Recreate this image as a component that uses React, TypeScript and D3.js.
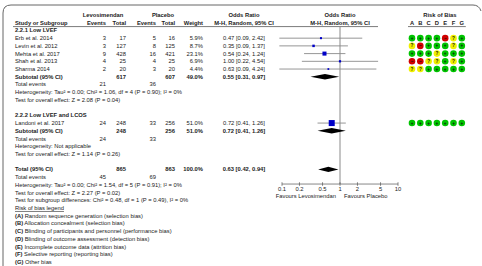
import React from "react";
import * as d3 from "d3";

// subgroup 2.2.1 Low LVEF
const lvefStudies = ["Erb et al. 2014", "Levin et al. 2012", "Mehta et al. 2017", "Shah et al. 2013", "Sharma 2014"];
const lvefLevoEvents = [3, 3, 9, 4, 2];
const lvefLevoTotal = [17, 127, 428, 25, 20];
const lvefPlacEvents = [5, 8, 16, 4, 3];
const lvefPlacTotal = [16, 125, 421, 25, 20];
const lvefWeight = [5.9, 8.7, 23.1, 6.9, 4.4];
const lvefOR = [0.47, 0.35, 0.54, 1.0, 0.63];
const lvefLo = [0.09, 0.09, 0.24, 0.22, 0.09];
const lvefHi = [2.42, 1.37, 1.24, 4.54, 4.24];
const lvefBias = ["++++-?+", "?-+++?+", "+++?+++", "--??+?+", "??+++++"];

// subgroup 2.2.2 Low LVEF and LCOS
const lcosStudies = ["Landoni et al. 2017"];
const lcosLevoEvents = [24];
const lcosLevoTotal = [248];
const lcosPlacEvents = [33];
const lcosPlacTotal = [256];
const lcosWeight = [51.0];
const lcosOR = [0.72];
const lcosLo = [0.41];
const lcosHi = [1.26];
const lcosBias = ["+++++++"];

// pooled: [levoTotal, placTotal, weight, or, lo, hi, levoEvents, placEvents]
const subtotal1 = [617, 607, 49.0, 0.55, 0.31, 0.97, 21, 36];
const subtotal2 = [248, 256, 51.0, 0.72, 0.41, 1.26, 24, 33];
const overall = [865, 863, 100.0, 0.63, 0.42, 0.94, 45, 69];

const axisTicks = [0.1, 0.2, 0.5, 1, 2, 5, 10];
const biasLetters = ["A", "B", "C", "D", "E", "F", "G"];
const biasLegend = [
  "Random sequence generation (selection bias)",
  "Allocation concealment (selection bias)",
  "Blinding of participants and personnel (performance bias)",
  "Blinding of outcome assessment (detection bias)",
  "Incomplete outcome data (attrition bias)",
  "Selective reporting (reporting bias)",
  "Other bias",
];

const W = 482;
const H = 266;
const FONT = "Liberation Sans, Arial, sans-serif";
const FS = 5.8;
const TXT = "#222";

const col = {
  study: 15,
  levoEv: 106,
  levoTot: 126,
  placEv: 156,
  placTot: 175,
  weight: 203,
  ci: 244,
  bias0: 412,
  biasStep: 8.3,
};

const x = d3.scaleLog().domain([0.1, 10]).range([282, 398]);
const y = d3.scaleLinear().domain([0, 32]).range([15, 262]);

const fmt2 = d3.format(".2f");
const ciText = (o: number, l: number, h: number) => `${fmt2(o)} [${fmt2(l)}, ${fmt2(h)}]`;
const biasColor: Record<string, string> = { "+": "#00c400", "-": "#d00000", "?": "#f0f000" };

function T(props: any) {
  const { x: tx, y: ty, children, anchor = "start", bold = false, ...rest } = props;
  return (
    <text x={tx} y={ty} dy="0.35em" textAnchor={anchor} fontWeight={bold ? "bold" : "normal"} {...rest}>
      {children}
    </text>
  );
}

function StudyRow({ i, name, le, lt, pe, pt, w, o, l, h, bias }: any) {
  const yy = y(i);
  const s = Math.sqrt(w) * 0.84;
  return (
    <g>
      <T x={col.study} y={yy}>{name}</T>
      <T x={col.levoEv} y={yy} anchor="end">{le}</T>
      <T x={col.levoTot} y={yy} anchor="end">{lt}</T>
      <T x={col.placEv} y={yy} anchor="end">{pe}</T>
      <T x={col.placTot} y={yy} anchor="end">{pt}</T>
      <T x={col.weight} y={yy} anchor="end">{w.toFixed(1)}%</T>
      <T x={col.ci} y={yy} anchor="middle">{ciText(o, l, h)}</T>
      <line x1={x(l)} x2={x(h)} y1={yy} y2={yy} stroke="#8a8a8a" strokeWidth={0.9} />
      <rect x={x(o) - s / 2} y={yy - s / 2} width={s} height={s} fill="#0000c8" />
      {bias.split("").map((b: string, k: number) => {
        const cx = col.bias0 + k * col.biasStep;
        return (
          <g key={k}>
            <circle cx={cx} cy={yy} r={3.3} fill={biasColor[b]} />
            <text x={cx} y={yy} dy="0.35em" textAnchor="middle" fontSize={4.6} fontWeight="bold" fill="#111">
              {b === "-" ? "\u2013" : b}
            </text>
          </g>
        );
      })}
    </g>
  );
}

function PooledRow({ i, label, v }: any) {
  const yy = y(i);
  const [lt, pt, w, o, l, h] = v;
  const dh = 2.7;
  const pts = [
    [x(l), yy],
    [x(o), yy - dh],
    [x(h), yy],
    [x(o), yy + dh],
  ];
  return (
    <g fontWeight="bold">
      <T x={col.study} y={yy} bold>{label}</T>
      <T x={col.levoTot} y={yy} anchor="end" bold>{lt}</T>
      <T x={col.placTot} y={yy} anchor="end" bold>{pt}</T>
      <T x={col.weight} y={yy} anchor="end" bold>{w.toFixed(1)}%</T>
      <T x={col.ci} y={yy} anchor="middle" bold>{ciText(o, l, h)}</T>
      <polygon points={pts.map((p) => p.join(",")).join(" ")} fill="#000" />
    </g>
  );
}

function EventsRow({ i, v }: any) {
  const yy = y(i);
  return (
    <g>
      <T x={col.study} y={yy}>Total events</T>
      <T x={col.levoEv} y={yy} anchor="end">{v[6]}</T>
      <T x={col.placEv} y={yy} anchor="end">{v[7]}</T>
    </g>
  );
}

export default function App() {
  const axisY = y(21.9);
  return (
    <svg
      width={W}
      height={H}
      style={{ position: "absolute", left: 0, top: 0, background: "#fff" }}
      fontFamily={FONT}
      fontSize={FS}
      fill={TXT}
    >
      {/* frame */}
      <path d={`M3,${H} V13 Q3,5 11,5 H473 Q479,5 481,11`} fill="none" stroke="#666" strokeWidth={1} />

      {/* headers */}
      <T x={103} y={y(0)} anchor="middle" bold>Levosimendan</T>
      <T x={163} y={y(0)} anchor="middle" bold>Placebo</T>
      <T x={col.ci} y={y(0)} anchor="middle" bold>Odds Ratio</T>
      <T x={x(1)} y={y(0)} anchor="middle" bold>Odds Ratio</T>
      <T x={col.bias0 + 3 * col.biasStep + 3} y={y(0)} anchor="middle" bold>Risk of Bias</T>

      <T x={col.study} y={y(1)} bold>Study or Subgroup</T>
      <T x={col.levoEv} y={y(1)} anchor="end" bold>Events</T>
      <T x={col.levoTot} y={y(1)} anchor="end" bold>Total</T>
      <T x={col.placEv} y={y(1)} anchor="end" bold>Events</T>
      <T x={col.placTot} y={y(1)} anchor="end" bold>Total</T>
      <T x={col.weight} y={y(1)} anchor="end" bold>Weight</T>
      <T x={col.ci} y={y(1)} anchor="middle" bold>M-H, Random, 95% CI</T>
      <T x={x(1)} y={y(1)} anchor="middle" bold>M-H, Random, 95% CI</T>
      {biasLetters.map((b, k) => (
        <T key={b} x={col.bias0 + k * col.biasStep} y={y(1)} anchor="middle" bold>{b}</T>
      ))}
      <line x1={col.study - 2} x2={x(10) - 20} y1={y(1.5)} y2={y(1.5)} stroke="#444" strokeWidth={0.7} />
      <line x1={col.bias0 - 4} x2={col.bias0 + 6 * col.biasStep + 4} y1={y(1.5)} y2={y(1.5)} stroke="#444" strokeWidth={0.7} />

      {/* null line */}
      <line x1={x(1)} x2={x(1)} y1={y(1.5)} y2={axisY} stroke="#8a8a8a" strokeWidth={1} />

      {/* subgroup 1 */}
      <T x={col.study} y={y(2)} bold>2.2.1 Low LVEF</T>
      {lvefStudies.map((s, k) => (
        <StudyRow
          key={s}
          i={3 + k}
          name={s}
          le={lvefLevoEvents[k]}
          lt={lvefLevoTotal[k]}
          pe={lvefPlacEvents[k]}
          pt={lvefPlacTotal[k]}
          w={lvefWeight[k]}
          o={lvefOR[k]}
          l={lvefLo[k]}
          h={lvefHi[k]}
          bias={lvefBias[k]}
        />
      ))}
      <PooledRow i={8} label="Subtotal (95% CI)" v={subtotal1} />
      <EventsRow i={9} v={subtotal1} />
      <T x={col.study} y={y(10)}>Heterogeneity: Tau² = 0.00; Chi² = 1.06, df = 4 (P = 0.90); I² = 0%</T>
      <T x={col.study} y={y(11)}>Test for overall effect: Z = 2.08 (P = 0.04)</T>

      {/* subgroup 2 */}
      <T x={col.study} y={y(13)} bold>2.2.2 Low LVEF and LCOS</T>
      {lcosStudies.map((s, k) => (
        <StudyRow
          key={s}
          i={14 + k}
          name={s}
          le={lcosLevoEvents[k]}
          lt={lcosLevoTotal[k]}
          pe={lcosPlacEvents[k]}
          pt={lcosPlacTotal[k]}
          w={lcosWeight[k]}
          o={lcosOR[k]}
          l={lcosLo[k]}
          h={lcosHi[k]}
          bias={lcosBias[k]}
        />
      ))}
      <PooledRow i={15} label="Subtotal (95% CI)" v={subtotal2} />
      <EventsRow i={16} v={subtotal2} />
      <T x={col.study} y={y(17)}>Heterogeneity: Not applicable</T>
      <T x={col.study} y={y(18)}>Test for overall effect: Z = 1.14 (P = 0.26)</T>

      {/* overall */}
      <PooledRow i={20} label="Total (95% CI)" v={overall} />
      <EventsRow i={21} v={overall} />
      <T x={col.study} y={y(22)}>Heterogeneity: Tau² = 0.00; Chi² = 1.54, df = 5 (P = 0.91); I² = 0%</T>
      <T x={col.study} y={y(23)}>Test for overall effect: Z = 2.27 (P = 0.02)</T>
      <T x={col.study} y={y(24)}>Test for subgroup differences: Chi² = 0.48, df = 1 (P = 0.49), I² = 0%</T>

      {/* axis */}
      <g stroke="#555" strokeWidth={0.7}>
        <line x1={x(0.1)} x2={x(10)} y1={axisY} y2={axisY} />
        {axisTicks.map((t) => (
          <line key={t} x1={x(t)} x2={x(t)} y1={axisY - 1.8} y2={axisY + 1.8} />
        ))}
      </g>
      {axisTicks.map((t) => (
        <T key={t} x={x(t)} y={axisY + 5} anchor="middle">{t}</T>
      ))}
      <T x={x(1) - 4} y={axisY + 11.5} anchor="end">Favours Levosimendan</T>
      <T x={x(1) + 4} y={axisY + 11.5}>Favours Placebo</T>

      {/* risk of bias legend */}
      <T x={col.study} y={y(25)} textDecoration="underline">Risk of bias legend</T>
      {biasLegend.map((d, k) => (
        <text key={d} x={col.study} y={y(26 + k)} dy="0.35em">
          <tspan fontWeight="bold">({biasLetters[k]})</tspan> {d}
        </text>
      ))}
    </svg>
  );
}
